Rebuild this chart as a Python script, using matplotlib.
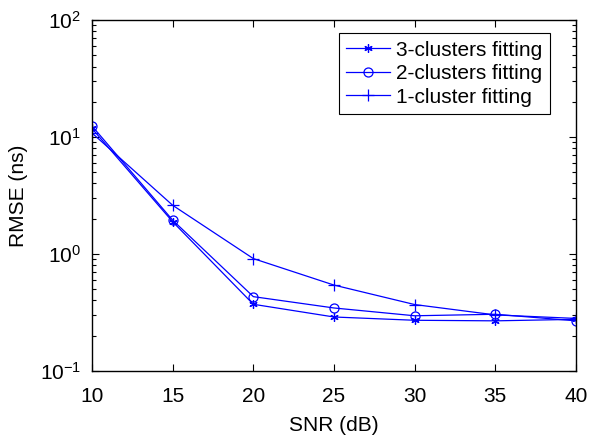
import numpy as np
import matplotlib
matplotlib.use("Agg")
import matplotlib.pyplot as plt
from matplotlib.ticker import FixedLocator, FixedFormatter, LogLocator, NullFormatter

plt.rcParams['font.family'] = ['Liberation Sans', 'DejaVu Sans']
plt.rcParams['mathtext.fontset'] = 'custom'
plt.rcParams['mathtext.rm'] = 'Liberation Sans'
plt.rcParams['mathtext.default'] = 'regular'

snr = [10, 15, 20, 25, 30, 35, 40]
rmse_3 = [11.8, 1.88, 0.37, 0.288, 0.27, 0.267, 0.275]
rmse_2 = [12.4, 1.94, 0.43, 0.344, 0.295, 0.304, 0.267]
rmse_1 = [10.8, 2.6, 0.91, 0.54, 0.368, 0.30, 0.28]
labels = ['3-clusters fitting', '2-clusters fitting', '1-cluster fitting']

xticks = [10, 15, 20, 25, 30, 35, 40]
yticks = [0.1, 1, 10, 100]
ytick_labels = [r'$10^{-1}$', r'$10^{0}$', r'$10^{1}$', r'$10^{2}$']

fig = plt.figure(figsize=(5.91, 4.38), dpi=100)
ax = fig.add_axes([92 / 591, 1 - 370.7 / 438, (576 - 92) / 591, (370.7 - 20) / 438])

blue = '#0000ff'
ax.plot(snr, rmse_3, color=blue, lw=0.9, marker=(6, 2, 0), ms=6, mew=0.9, label=labels[0])
ax.plot(snr, rmse_2, color=blue, lw=0.9, marker='o', ms=6.5, mfc='none', mew=0.9, label=labels[1])
ax.plot(snr, rmse_1, color=blue, lw=0.9, marker='+', ms=8, mew=0.9, label=labels[2])

ax.set_yscale('log')
ax.set_xlim(10, 40)
ax.set_ylim(0.1, 100)
ax.xaxis.set_major_locator(FixedLocator(xticks))
ax.yaxis.set_major_locator(FixedLocator(yticks))
ax.yaxis.set_major_formatter(FixedFormatter(ytick_labels))
ax.yaxis.set_minor_locator(LogLocator(base=10, subs=np.arange(2, 10)))
ax.yaxis.set_minor_formatter(NullFormatter())

ax.tick_params(which='both', direction='in', top=True, right=True, labelsize=15, width=0.8)
ax.tick_params(which='major', length=5)
ax.tick_params(which='minor', length=3)
ax.tick_params(axis='x', pad=12)
ax.tick_params(axis='y', pad=8)
for s in ax.spines.values():
    s.set_linewidth(1.0)

ax.set_xlabel('SNR (dB)', fontsize=15, labelpad=7)
ax.set_ylabel('RMSE (ns)', fontsize=15, labelpad=8)

leg = ax.legend(loc='upper right', bbox_to_anchor=((550 - 92) / 484, (370.7 - 33.3) / 350.7),
                borderaxespad=0, fontsize=15, fancybox=False, framealpha=1,
                edgecolor='black', handlelength=2.1, labelspacing=0.22,
                borderpad=0.35, handletextpad=0.3)
leg.get_frame().set_linewidth(0.8)

fig.savefig('out.png', dpi=100)
